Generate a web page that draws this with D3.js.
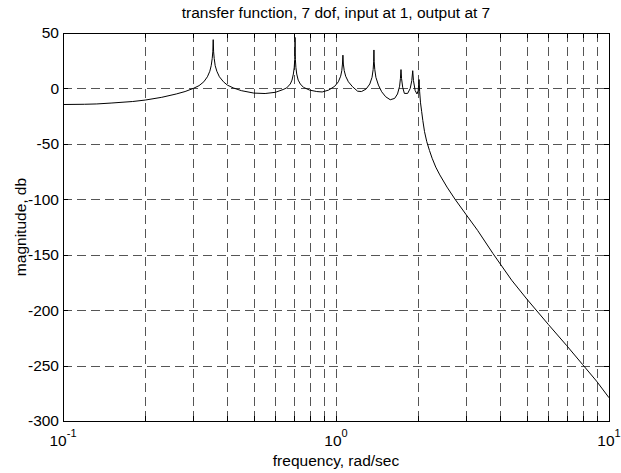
<!DOCTYPE html>
<html lang="en">
<head>
    <meta charset="UTF-8">
    <title>transfer function</title>
    <style>
        body { margin: 0; background: #fff; }
        text { font-family: "Liberation Sans", Arial, sans-serif; fill: #000; }
    </style>
</head>
<body>

<script src="https://d3js.org/d3.v7.min.js"></script>
<script>
    // magnitude: frequency (rad/sec) and magnitude (db)
    var freq = [
        0.100, 0.120, 0.133, 0.150, 0.180, 0.200, 0.230, 0.260, 0.280, 0.300,
        0.315, 0.328, 0.338, 0.345, 0.349, 0.352, 0.3538, 0.355, 0.3562, 0.358,
        0.361, 0.366, 0.374, 0.387, 0.400, 0.420, 0.450, 0.500, 0.550, 0.600,
        0.640, 0.660, 0.680, 0.690, 0.698, 0.703, 0.706, 0.7075, 0.708, 0.7085,
        0.710, 0.713, 0.718, 0.727, 0.740, 0.760, 0.800, 0.850, 0.890, 0.940,
        0.990, 1.020, 1.040, 1.050, 1.056, 1.060, 1.064, 1.072, 1.085, 1.110,
        1.150, 1.200, 1.240, 1.290, 1.330, 1.355, 1.368, 1.374, 1.377, 1.380,
        1.387, 1.400, 1.430, 1.470, 1.520, 1.580, 1.640, 1.680, 1.710, 1.722,
        1.730, 1.738, 1.755, 1.780, 1.830, 1.870, 1.895, 1.910, 1.922, 1.950,
        1.980, 2.000, 2.015, 2.025, 2.040, 2.060, 2.080, 2.110, 2.150, 2.200,
        2.250, 2.320, 2.400, 2.550, 2.730, 3.000, 3.300, 3.760, 4.400, 5.000,
        6.000, 7.000, 8.000, 9.000, 10.00
    ];
    var magDb = [
        -14.5, -14.3, -14.0, -13.2, -11.8, -10.5, -8.0, -5.0, -2.8, 0.0,
        2.5, 6.0, 10.5, 15.5, 20.5, 27, 33, 44, 33, 27,
        20.5, 15.5, 10.5, 6.0, 3.0, 0.5, -2.0, -4.2, -4.6, -3.5,
        -1.0, 0.5, 4.0, 7.5, 13, 19, 26, 32, 46, 32,
        26, 19, 13, 7.5, 4.0, 1.0, -1.5, -2.8, -3.2, -1.5,
        2.0, 6.0, 11, 16, 22, 30, 22, 16, 11, 6.0,
        1.5, -2.5, -2.8, -0.5, 4.0, 10, 17, 24, 34.7, 24,
        17, 10, 3.0, -3.0, -7.5, -10.2, -9.0, -5.0, 2.0, 9.0,
        17, 9.0, 1.0, -4.5, -4.5, 0.0, 7.0, 16, 7.0, -2.0,
        -5.0, -2.0, 8.0, -3.0, -13, -21, -29, -39, -48, -56,
        -63, -71, -78, -89, -100, -114, -128, -149, -173, -190,
        -213, -232, -249, -264, -279
    ];

    var yTicks = [-300, -250, -200, -150, -100, -50, 0, 50];
    var xGrid = [0.2, 0.3, 0.4, 0.5, 0.6, 0.7, 0.8, 0.9, 1, 2, 3, 4, 5, 6, 7, 8, 9];
    var xDecades = [0.1, 1, 10];
    var xExponents = ["-1", "0", "1"];

    var W = 621, H = 473;
    var margin = {left: 63, right: 609, top: 33, bottom: 421};

    var svg = d3.select("body")
        .append("svg")
        .attr("width", W)
        .attr("height", H);

    var x = d3.scaleLog().domain([0.1, 10]).range([margin.left, margin.right]);
    var y = d3.scaleLinear().domain([-300, 50]).range([margin.bottom, margin.top]);

    var crisp = function (v) { return Math.round(v) + 0.5; };

    // dashed grid
    svg.append("g")
        .selectAll("line")
        .data(xGrid)
        .enter()
        .append("line")
        .attr("x1", function (d) { return crisp(x(d)); })
        .attr("x2", function (d) { return crisp(x(d)); })
        .attr("y1", margin.top)
        .attr("y2", margin.bottom)
        .attr("stroke", "#555")
        .attr("stroke-dasharray", "9,5");

    svg.append("g")
        .selectAll("line")
        .data(yTicks.slice(1, -1))
        .enter()
        .append("line")
        .attr("x1", margin.left)
        .attr("x2", margin.right)
        .attr("y1", function (d) { return crisp(y(d)); })
        .attr("y2", function (d) { return crisp(y(d)); })
        .attr("stroke", "#555")
        .attr("stroke-dasharray", "9,5");

    // tick marks, pointing inward on all four sides
    var tickLen = 5;
    var ticks = svg.append("g").attr("stroke", "#000");
    xGrid.forEach(function (d) {
        var px = crisp(x(d));
        ticks.append("line").attr("x1", px).attr("x2", px)
            .attr("y1", margin.bottom).attr("y2", margin.bottom - tickLen);
        ticks.append("line").attr("x1", px).attr("x2", px)
            .attr("y1", margin.top).attr("y2", margin.top + tickLen);
    });
    yTicks.forEach(function (d) {
        var py = crisp(y(d));
        ticks.append("line").attr("x1", margin.left).attr("x2", margin.left + tickLen)
            .attr("y1", py).attr("y2", py);
        ticks.append("line").attr("x1", margin.right).attr("x2", margin.right - tickLen)
            .attr("y1", py).attr("y2", py);
    });

    // the curve
    var line = d3.line()
        .x(function (d, i) { return x(freq[i]); })
        .y(function (d) { return y(d); });

    svg.append("path")
        .datum(magDb)
        .attr("d", line)
        .attr("fill", "none")
        .attr("stroke", "#000")
        .attr("stroke-width", 1);

    // axes box
    svg.append("rect")
        .attr("x", crisp(margin.left))
        .attr("y", crisp(margin.top))
        .attr("width", Math.round(margin.right - margin.left))
        .attr("height", Math.round(margin.bottom - margin.top))
        .attr("fill", "none")
        .attr("stroke", "#000");

    // y tick labels
    svg.append("g")
        .selectAll("text")
        .data(yTicks)
        .enter()
        .append("text")
        .attr("x", margin.left - 4)
        .attr("y", function (d) { return y(d); })
        .attr("dy", "0.35em")
        .attr("text-anchor", "end")
        .attr("font-size", "15.5px")
        .text(function (d) { return d; });

    // x tick labels, 10 with a superscript exponent
    var xl = svg.append("g")
        .selectAll("text")
        .data(xDecades)
        .enter()
        .append("text")
        .attr("x", function (d) { return x(d); })
        .attr("y", 446)
        .attr("text-anchor", "middle")
        .attr("font-size", "15.5px");
    xl.append("tspan").text("10");
    xl.append("tspan")
        .attr("dy", -9)
        .attr("font-size", "11px")
        .text(function (d, i) { return xExponents[i]; });

    // titles
    svg.append("text")
        .attr("x", (margin.left + margin.right) / 2)
        .attr("y", 18)
        .attr("text-anchor", "middle")
        .attr("font-size", "15.5px")
        .text("transfer function, 7 dof, input at 1, output at 7");

    svg.append("text")
        .attr("x", (margin.left + margin.right) / 2)
        .attr("y", 466)
        .attr("text-anchor", "middle")
        .attr("font-size", "15.5px")
        .text("frequency, rad/sec");

    svg.append("text")
        .attr("transform", "translate(26," + ((margin.top + margin.bottom) / 2) + ") rotate(-90)")
        .attr("text-anchor", "middle")
        .attr("font-size", "15.5px")
        .text("magnitude, db");
</script>
</body>
</html>
